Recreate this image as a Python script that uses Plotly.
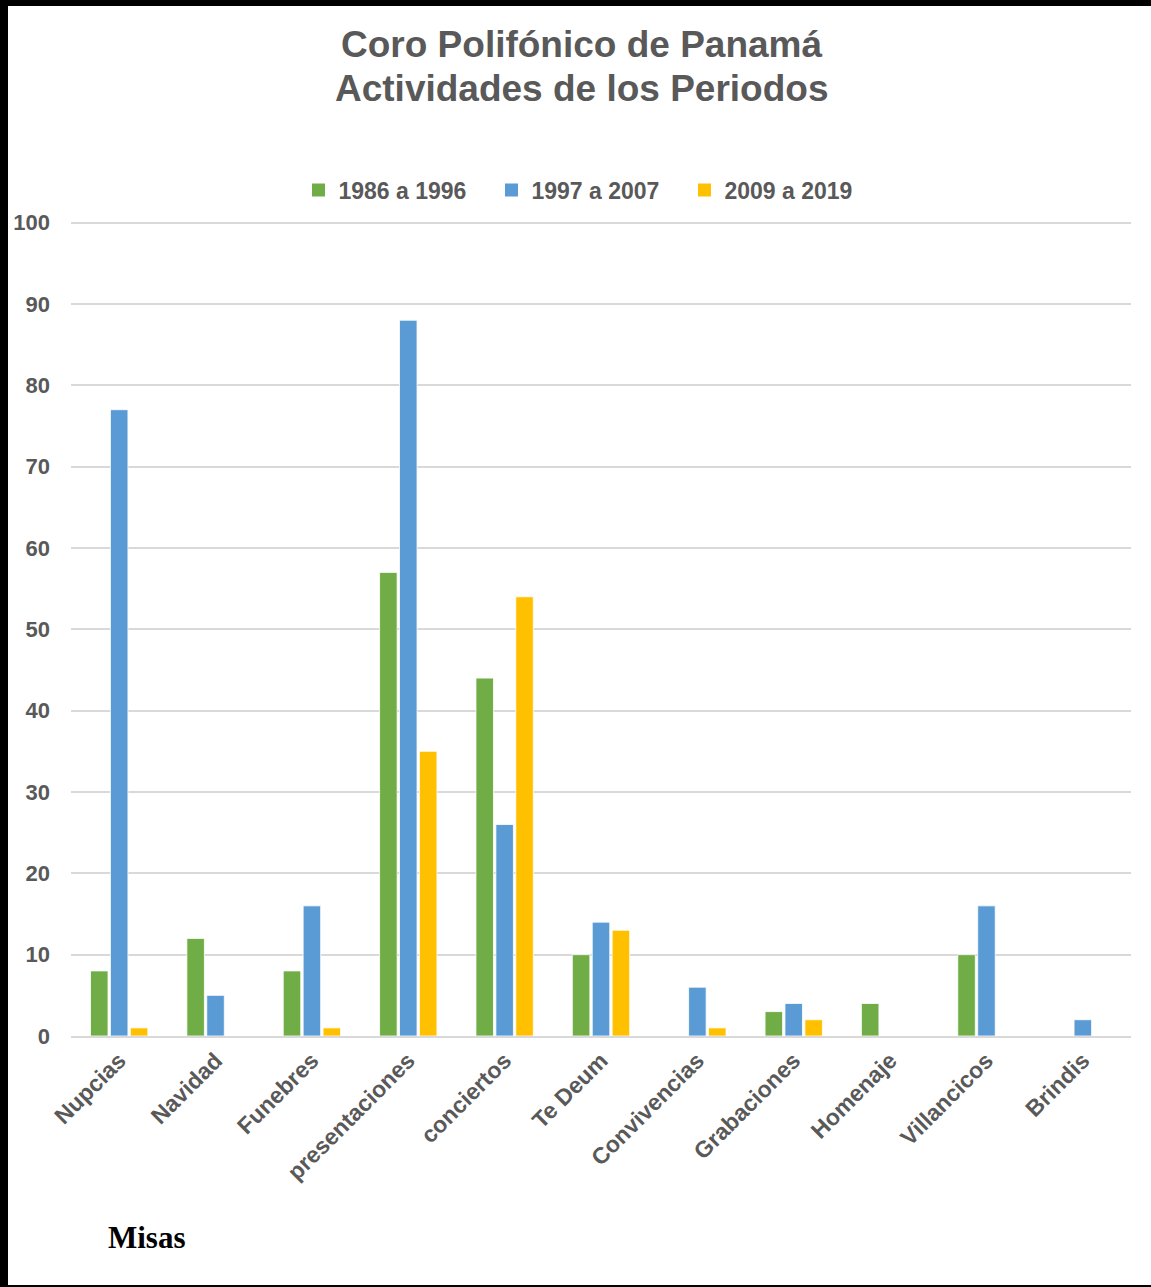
import plotly.graph_objects as go

categories = ["Nupcias", "Navidad", "Funebres", "presentaciones", "conciertos",
              "Te Deum", "Convivencias", "Grabaciones", "Homenaje", "Villancicos", "Brindis"]
serie_1986 = [8, 12, 8, 57, 44, 10, None, 3, 4, 10, None]
serie_1997 = [77, 5, 16, 88, 26, 14, 6, 4, None, 16, 2]
serie_2009 = [1, None, 1, 35, 54, 13, 1, 2, None, None, None]
series_names = ["1986 a 1996", "1997 a 2007", "2009 a 2019"]
series_colors = ["#70AD47", "#5B9BD5", "#FFC000"]
y_ticks = [0, 10, 20, 30, 40, 50, 60, 70, 80, 90, 100]
title_lines = ["Coro Polifónico de Panamá", "Actividades de los Periodos"]

W, H = 1151, 1287
L, R, T, B = 71, 20, 221, 251
PW, PH = W - L - R, H - T - B

def px_x(x):
    return (x - L) / PW

def px_y(y):
    return (H - B - y) / PH

GRAY = "#595959"
FONT = "Liberation Sans, Arial, sans-serif"

fig = go.Figure()
for name, vals, col in zip(series_names, [serie_1986, serie_1997, serie_2009], series_colors):
    fig.add_trace(go.Bar(x=categories, y=vals, name=name, showlegend=False,
                         marker=dict(color=col, line=dict(color="white", width=0.8))))
# legend entries (square swatches)
for name, col in zip(series_names, series_colors):
    fig.add_trace(go.Scatter(x=[None], y=[None], mode="markers", name=name,
                             marker=dict(symbol="square", size=13, color=col)))

shapes = [
    dict(type="rect", xref="paper", yref="paper", x0=px_x(0), x1=px_x(8), y0=px_y(H), y1=px_y(0),
         fillcolor="black", line=dict(width=0), layer="above"),
    dict(type="rect", xref="paper", yref="paper", x0=px_x(0), x1=px_x(W), y0=px_y(6), y1=px_y(0),
         fillcolor="black", line=dict(width=0), layer="above"),
    dict(type="rect", xref="paper", yref="paper", x0=px_x(0), x1=px_x(W), y0=px_y(H), y1=px_y(H - 2),
         fillcolor="black", line=dict(width=0), layer="above"),
]

annotations = [
    dict(text=title_lines[0], xref="paper", yref="paper", x=px_x(581), y=px_y(45),
         xanchor="center", yanchor="middle", showarrow=False,
         font=dict(family=FONT, size=37, color=GRAY, weight="bold")),
    dict(text=title_lines[1], xref="paper", yref="paper", x=px_x(581), y=px_y(88),
         xanchor="center", yanchor="middle", showarrow=False,
         font=dict(family=FONT, size=37, color=GRAY, weight="bold")),
    dict(text="<b>Misas</b>", xref="paper", yref="paper", x=px_x(106), y=px_y(1237),
         xanchor="left", yanchor="middle", showarrow=False,
         font=dict(family="Liberation Serif, Times New Roman, serif", size=31, color="black")),
]

fig.update_layout(
    width=W, height=H,
    margin=dict(l=L, r=R, t=T, b=B),
    paper_bgcolor="white", plot_bgcolor="white",
    font=dict(family=FONT, color=GRAY),
    barmode="group", bargap=0.38, bargroupgap=0.12,
    legend=dict(orientation="h", x=px_x(588), xanchor="center", y=px_y(190), yanchor="middle",
                font=dict(size=23, color=GRAY, family=FONT, weight="bold"),
                entrywidth=148, entrywidthmode="pixels", traceorder="normal"),
    xaxis=dict(tickangle=-45, tickfont=dict(size=23, color=GRAY, family=FONT, weight="bold"),
               showline=True, linecolor="#D9D9D9", linewidth=2, showgrid=False, ticks=""),
    yaxis=dict(range=[0, 100.2], tickvals=y_ticks, showgrid=True, gridcolor="#D9D9D9", gridwidth=1.5,
               zeroline=False, tickfont=dict(size=22, color=GRAY, family=FONT, weight="bold"),
               ticklabelstandoff=20),
    shapes=shapes,
    annotations=annotations,
)

fig.write_html("out.html", config={"displayModeBar": False},
               post_script="document.body.style.margin='0';")
